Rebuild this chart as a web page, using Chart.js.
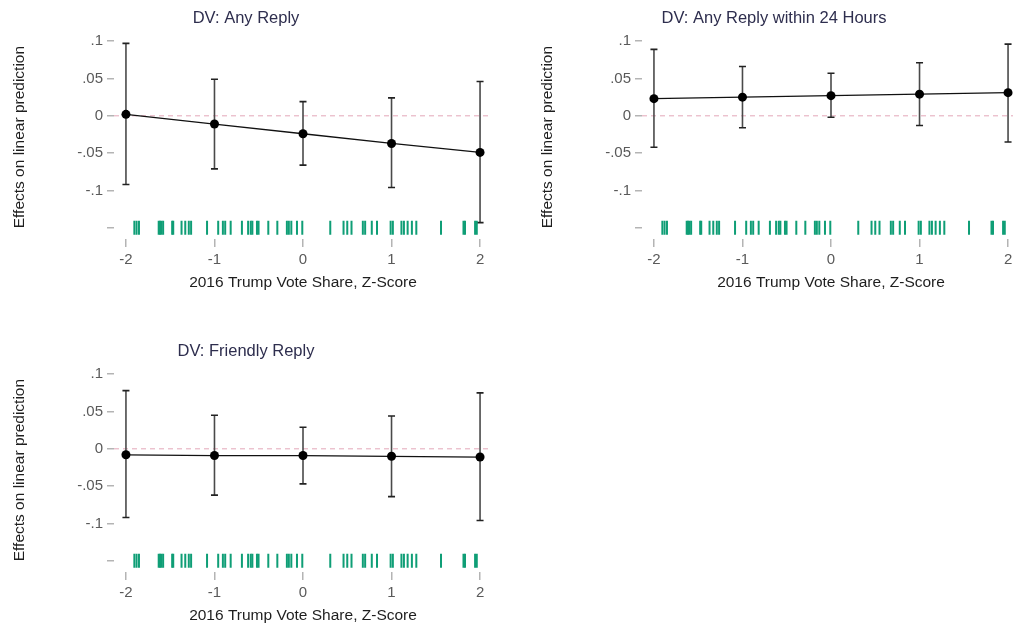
<!DOCTYPE html>
<html>
<head>
<meta charset="utf-8">
<script src="https://cdn.jsdelivr.net/npm/chart.js@4.4.1/dist/chart.umd.min.js"></script>
<style>
  html, body { margin: 0; padding: 0; background: #ffffff; overflow: hidden; }
  body { width: 1013px; height: 624px; position: relative; }
  .panel { position: absolute; width: 494px; height: 300px; }
  .panel canvas { display: block; }
</style>
</head>
<body>
<div class="panel" style="left:0px; top:0px;"><canvas id="pAny" width="494" height="300"></canvas></div>
<div class="panel" style="left:528px; top:0px;"><canvas id="p24" width="494" height="300"></canvas></div>
<div class="panel" style="left:0px; top:333px;"><canvas id="pFriendly" width="494" height="300"></canvas></div>
<script>
// Z-score values at which the marginal effects are evaluated
const zScores = [-2, -1, 0, 1, 2];

// DV: Any Reply
const anyReplyEst = [0.002, -0.011, -0.024, -0.037, -0.049];
const anyReplyLo  = [-0.092, -0.071, -0.066, -0.096, -0.143];
const anyReplyHi  = [0.097, 0.049, 0.019, 0.024, 0.046];

// DV: Any Reply within 24 Hours
const reply24Est = [0.023, 0.025, 0.027, 0.029, 0.031];
const reply24Lo  = [-0.042, -0.016, -0.002, -0.013, -0.035];
const reply24Hi  = [0.089, 0.066, 0.057, 0.071, 0.096];

// DV: Friendly Reply
const friendlyEst = [-0.008, -0.009, -0.009, -0.010, -0.011];
const friendlyLo  = [-0.092, -0.062, -0.047, -0.064, -0.096];
const friendlyHi  = [0.078, 0.045, 0.029, 0.044, 0.075];

// Observed z-scores of the sample (rug along the bottom of each panel)
const rugValues = [
  -1.905, -1.88, -1.853, -1.63, -1.615, -1.6, -1.58, -1.478, -1.466,
  -1.372, -1.33, -1.29, -1.264, -1.084, -0.958, -0.905, -0.879, -0.817,
  -0.69, -0.62, -0.59, -0.572, -0.52, -0.502, -0.392, -0.29, -0.182,
  -0.16, -0.132, -0.068, -0.008, 0.308, 0.458, 0.5, 0.548, 0.676, 0.702,
  0.777, 0.836, 0.99, 1.015, 1.112, 1.14, 1.182, 1.23, 1.28, 1.559,
  1.813, 1.83, 1.944, 1.963
];
const rugLevel = -0.15;

// Axis ticks
const xTickValues = [-2, -1, 0, 1, 2];
const xTickLabels = ['-2', '-1', '0', '1', '2'];
const yTickValues = [0.1, 0.05, 0, -0.05, -0.1, -0.15];
const yTickLabels = ['.1', '.05', '0', '-.05', '-.1', ''];

const xTitle = '2016 Trump Vote Share, Z-Score';
const yTitle = 'Effects on linear prediction';

const FONT = '"Liberation Sans", Arial, Helvetica, sans-serif';

// Confidence intervals and the dashed zero reference line
const intervalPlugin = {
  id: 'intervals',
  beforeDatasetsDraw(chart, args, opts) {
    const { ctx, chartArea, scales: { x, y } } = chart;
    // zero reference line
    const y0 = y.getPixelForValue(0);
    ctx.save();
    ctx.strokeStyle = '#e3a6b8';
    ctx.lineWidth = 1;
    ctx.setLineDash([5, 4]);
    ctx.beginPath();
    ctx.moveTo(chartArea.left, y0);
    ctx.lineTo(chartArea.right, y0);
    ctx.stroke();
    ctx.setLineDash([]);
    // error bars
    const cap = 3.5;
    opts.xs.forEach((xv, i) => {
      const px = x.getPixelForValue(xv);
      const pLo = y.getPixelForValue(opts.lo[i]);
      const pHi = y.getPixelForValue(opts.hi[i]);
      ctx.strokeStyle = '#4a4a4a';
      ctx.lineWidth = 1.6;
      ctx.beginPath();
      ctx.moveTo(px, pLo);
      ctx.lineTo(px, pHi);
      ctx.stroke();
      ctx.strokeStyle = '#222222';
      ctx.lineWidth = 1.6;
      ctx.beginPath();
      ctx.moveTo(px - cap, pHi);
      ctx.lineTo(px + cap, pHi);
      ctx.moveTo(px - cap, pLo);
      ctx.lineTo(px + cap, pLo);
      ctx.stroke();
    });
    ctx.restore();
  }
};

function makePanel(canvasId, title, est, lo, hi) {
  const estPoints = zScores.map((z, i) => ({ x: z, y: est[i] }));
  const rugPoints = rugValues.map(v => ({ x: v, y: rugLevel }));
  return new Chart(document.getElementById(canvasId), {
    type: 'scatter',
    data: {
      datasets: [
        {
          data: estPoints,
          showLine: true,
          borderColor: '#111111',
          borderWidth: 1.3,
          backgroundColor: '#000000',
          pointBackgroundColor: '#000000',
          pointBorderColor: '#000000',
          pointRadius: 4.5,
          pointBorderWidth: 0
        },
        {
          data: rugPoints,
          showLine: false,
          pointStyle: 'line',
          rotation: 90,
          pointRadius: 7,
          pointBorderWidth: 2,
          pointBorderColor: '#0f9e76',
          pointBackgroundColor: '#0f9e76'
        }
      ]
    },
    options: {
      responsive: false,
      animation: false,
      devicePixelRatio: 1,
      layout: { autoPadding: false, padding: { left: 0, right: 2, top: 0, bottom: 0 } },
      plugins: {
        legend: { display: false },
        tooltip: { enabled: false },
        title: {
          display: true,
          text: title,
          color: '#2e2e4e',
          font: { family: FONT, size: 16.5, weight: 'normal' },
          padding: { top: 9, bottom: 6.4 }
        },
        intervals: { xs: zScores, lo: lo, hi: hi }
      },
      scales: {
        x: {
          type: 'linear',
          min: -2.135,
          max: 2.135,
          afterBuildTicks: s => { s.ticks = xTickValues.map(v => ({ value: v })); },
          afterFit: s => { s.height = 61; s.paddingLeft = 0; s.paddingRight = 0; },
          ticks: {
            color: '#5a5a5a',
            font: { family: FONT, size: 15 },
            padding: 4,
            maxRotation: 0,
            callback: v => xTickLabels[xTickValues.indexOf(v)]
          },
          grid: { drawOnChartArea: false, drawTicks: true, tickLength: 8, color: '#b4b4b4', lineWidth: 1.5 },
          border: { display: false },
          title: {
            display: true,
            text: xTitle,
            color: '#1e1e1e',
            font: { family: FONT, size: 15.5 },
            padding: { top: 0, bottom: 8 }
          }
        },
        y: {
          type: 'linear',
          min: -0.165,
          max: 0.108,
          afterBuildTicks: s => { s.ticks = yTickValues.map(v => ({ value: v })); },
          afterFit: s => { s.width = 114; s.paddingTop = 0; s.paddingBottom = 0; },
          ticks: {
            color: '#5a5a5a',
            font: { family: FONT, size: 15 },
            padding: 4,
            callback: v => {
              const k = yTickValues.findIndex(t => Math.abs(t - v) < 1e-9);
              return k >= 0 ? yTickLabels[k] : '';
            }
          },
          grid: { drawOnChartArea: false, drawTicks: true, tickLength: 7, color: '#b4b4b4', lineWidth: 1.5 },
          border: { display: false },
          title: {
            display: true,
            text: yTitle,
            color: '#1e1e1e',
            font: { family: FONT, size: 15.5 },
            padding: { top: 10, bottom: 0 }
          }
        }
      }
    },
    plugins: [intervalPlugin]
  });
}

makePanel('pAny', 'DV: Any Reply', anyReplyEst, anyReplyLo, anyReplyHi);
makePanel('p24', 'DV: Any Reply within 24 Hours', reply24Est, reply24Lo, reply24Hi);
makePanel('pFriendly', 'DV: Friendly Reply', friendlyEst, friendlyLo, friendlyHi);
</script>
</body>
</html>
